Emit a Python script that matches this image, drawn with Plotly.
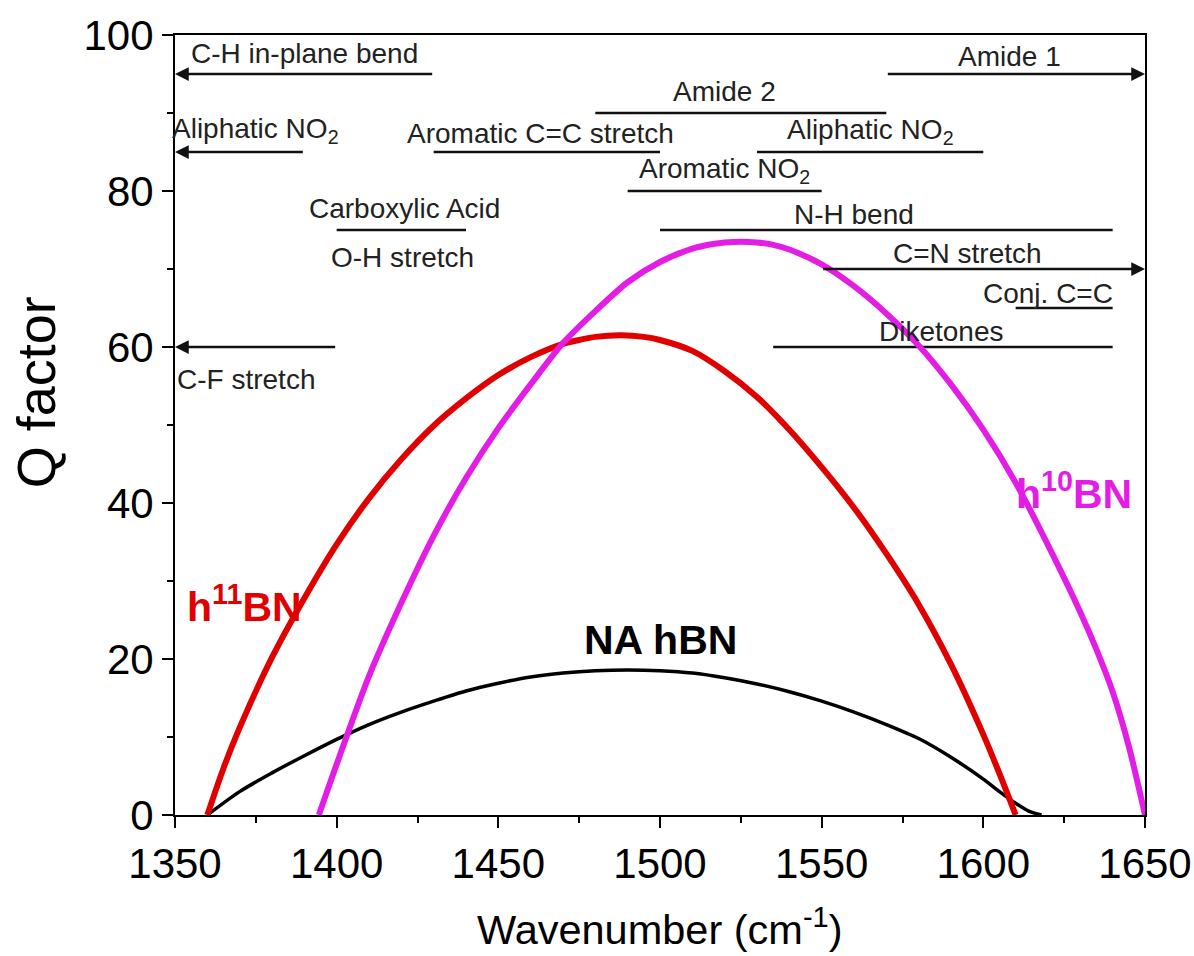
import plotly.graph_objects as go

# ---- curve data ----
x_h11 = [1360, 1365, 1370, 1380, 1390, 1400, 1410, 1420, 1430, 1440, 1450, 1460, 1470, 1475, 1480, 1488,
         1495, 1500, 1510, 1520, 1530, 1540, 1550, 1560, 1570, 1580, 1590, 1600, 1605, 1610]
y_h11 = [0, 6.0, 11.2, 20.2, 27.8, 34.7, 40.6, 45.6, 49.9, 53.4, 56.4, 58.7, 60.4, 60.9, 61.3, 61.5,
         61.3, 60.9, 59.5, 56.9, 53.6, 49.4, 44.6, 39.4, 33.5, 27.0, 19.3, 10.3, 5.3, 0]

x_h10 = [1394.5, 1400, 1410, 1420, 1430, 1440, 1450, 1460, 1470, 1480, 1490, 1500, 1510, 1515, 1520, 1525,
         1530, 1535, 1540, 1550, 1560, 1570, 1580, 1590, 1600, 1610, 1620, 1630, 1635, 1640, 1645, 1650]
y_h10 = [0, 6.5, 17.8, 27.2, 35.8, 43.2, 49.6, 55.2, 60.5, 64.6, 68.3, 70.9, 72.6, 73.1, 73.4, 73.5,
         73.4, 73.1, 72.5, 70.6, 67.8, 64.3, 60.2, 55.2, 49.4, 42.6, 34.6, 26.0, 21.2, 15.8, 8.8, 0]

x_na = [1360, 1370, 1380, 1390, 1400, 1410, 1420, 1430, 1440, 1450, 1460, 1470, 1480, 1490, 1500,
        1510, 1520, 1530, 1540, 1550, 1560, 1570, 1580, 1590, 1600, 1605, 1610, 1614, 1618]
y_na = [0, 3.0, 5.4, 7.6, 9.7, 11.6, 13.2, 14.6, 15.9, 16.9, 17.7, 18.2, 18.5, 18.6, 18.5,
        18.2, 17.6, 16.8, 15.8, 14.6, 13.2, 11.6, 9.8, 7.4, 4.6, 3.0, 1.5, 0.5, 0]

# ---- absorption band ranges ----
band_x0 = [1350, 1570, 1480, 1350, 1430, 1530, 1490, 1400, 1500, 1550, 1610, 1535, 1350]
band_x1 = [1430, 1650, 1570, 1390, 1500, 1600, 1550, 1440, 1640, 1650, 1640, 1640, 1400]
band_y = [95, 95, 90, 85, 85, 85, 80, 75, 75, 70, 65, 60, 60]
band_arrow = ["left", "right", None, "left", None, None, None, None, None, "right", None, None, "left"]

band_text = ["C-H in-plane bend", "Amide 1", "Amide 2", "Aliphatic NO<sub>2</sub>",
             "Aromatic C=C stretch", "Aliphatic NO<sub>2</sub>", "Aromatic NO<sub>2</sub>",
             "Carboxylic Acid", "O-H stretch", "N-H bend", "C=N stretch", "Conj. C=C",
             "Diketones", "C-F stretch"]
band_text_x = [1390, 1608, 1520, 1375, 1463, 1565, 1520, 1421, 1420.5, 1560, 1595, 1620, 1587, 1372]
band_text_y = [97.6, 97.2, 92.7, 87.8, 87.4, 87.6, 82.6, 77.8, 71.5, 77.0, 72.0, 66.8, 62.0, 55.8]

x_ticks = [1350, 1400, 1450, 1500, 1550, 1600, 1650]
y_ticks = [0, 20, 40, 60, 80, 100]

FONT = "Arial, Liberation Sans, sans-serif"
RED = "#e00000"
MAG = "#e41de6"

fig = go.Figure()

# band lines without arrows
for x0, x1, yy, arr in zip(band_x0, band_x1, band_y, band_arrow):
    if arr is None:
        fig.add_trace(go.Scatter(x=[x0, x1], y=[yy, yy], mode="lines",
                                 line=dict(color="#111111", width=2.5),
                                 showlegend=False, hoverinfo="skip"))

fig.add_trace(go.Scatter(x=x_na, y=y_na, mode="lines", line=dict(color="black", width=3.5, shape="spline", smoothing=0.8),
                         showlegend=False, hoverinfo="skip"))
fig.add_trace(go.Scatter(x=x_h11, y=y_h11, mode="lines", line=dict(color=RED, width=6, shape="spline", smoothing=0.8),
                         showlegend=False, hoverinfo="skip"))
fig.add_trace(go.Scatter(x=x_h10, y=y_h10, mode="lines", line=dict(color=MAG, width=6, shape="spline", smoothing=0.8),
                         showlegend=False, hoverinfo="skip"))

annotations = []
# arrowed band lines
for x0, x1, yy, arr in zip(band_x0, band_x1, band_y, band_arrow):
    if arr is None:
        continue
    tip, tail = (x0, x1) if arr == "left" else (x1, x0)
    annotations.append(dict(x=tip, y=yy, ax=tail, ay=yy, xref="x", yref="y", axref="x", ayref="y",
                            showarrow=True, arrowhead=2, arrowsize=1.1, arrowwidth=2.5,
                            arrowcolor="#111111", text="", standoff=0))
for t, tx, ty in zip(band_text, band_text_x, band_text_y):
    annotations.append(dict(x=tx, y=ty, xref="x", yref="y", text=t, showarrow=False,
                            font=dict(family=FONT, size=28, color="#222222"),
                            xanchor="center", yanchor="middle"))

# curve labels
annotations.append(dict(x=1371.5, y=27, xref="x", yref="y", text="<b>h<sup>11</sup>BN</b>", showarrow=False,
                        font=dict(family=FONT, size=41, color=RED), xanchor="center", yanchor="middle"))
annotations.append(dict(x=1628, y=41.5, xref="x", yref="y", text="<b>h<sup>10</sup>BN</b>", showarrow=False,
                        font=dict(family=FONT, size=41, color=MAG), xanchor="center", yanchor="middle"))
annotations.append(dict(x=1500, y=22.4, xref="x", yref="y", text="<b>NA hBN</b>", showarrow=False,
                        font=dict(family=FONT, size=41, color="black"), xanchor="center", yanchor="middle"))

# axis titles
annotations.append(dict(x=0, y=0.542, xref="paper", yref="paper", xshift=-139, text="Q factor",
                        textangle=-90, showarrow=False, font=dict(family=FONT, size=54, color="black"),
                        xanchor="center", yanchor="middle"))
annotations.append(dict(x=0.5, y=0, xref="paper", yref="paper", yshift=-112,
                        text="Wavenumber (cm<sup>-1</sup>)", showarrow=False,
                        font=dict(family=FONT, size=41.5, color="black"),
                        xanchor="center", yanchor="middle"))

fig.update_layout(
    width=1194, height=956,
    margin=dict(l=175, r=49, t=35, b=141, autoexpand=False),
    plot_bgcolor="white", paper_bgcolor="white",
    annotations=annotations,
    xaxis=dict(range=[1350, 1650], tickvals=x_ticks, ticks="outside", ticklen=11, tickwidth=2,
               tickcolor="black", showline=True, linecolor="black", linewidth=2, mirror=True,
               showgrid=False, zeroline=False, automargin=False,
               minor=dict(ticks="outside", ticklen=6, tickwidth=2, tickcolor="black", dtick=25, showgrid=False),
               tickfont=dict(family=FONT, size=42, color="black")),
    yaxis=dict(range=[0, 100], tickvals=y_ticks, ticks="outside", ticklen=11, tickwidth=2,
               tickcolor="black", showline=True, linecolor="black", linewidth=2, mirror=True,
               showgrid=False, zeroline=False, automargin=False,
               minor=dict(ticks="outside", ticklen=6, tickwidth=2, tickcolor="black", dtick=10, showgrid=False),
               tickfont=dict(family=FONT, size=42, color="black")),
)

fig.write_html("out.html")
